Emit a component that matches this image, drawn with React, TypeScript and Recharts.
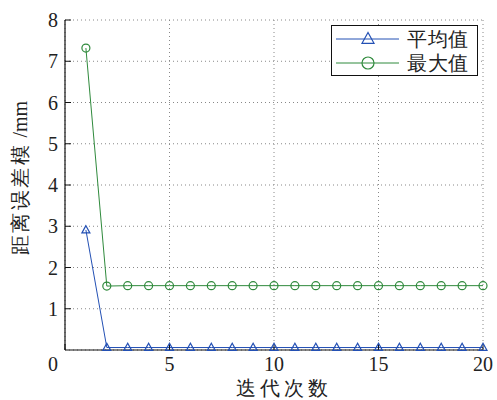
import React from 'react';
import { LineChart, Line, XAxis, YAxis, CartesianGrid, Legend } from 'recharts';

const iterations = [1, 2, 3, 4, 5, 6, 7, 8, 9, 10, 11, 12, 13, 14, 15, 16, 17, 18, 19, 20];
const meanValues = [2.91, 0.06, 0.06, 0.06, 0.06, 0.06, 0.06, 0.06, 0.06, 0.06, 0.06, 0.06, 0.06, 0.06, 0.06, 0.06, 0.06, 0.06, 0.06, 0.06];
const maxValues = [7.32, 1.55, 1.56, 1.56, 1.56, 1.56, 1.56, 1.56, 1.56, 1.56, 1.56, 1.56, 1.56, 1.56, 1.56, 1.56, 1.56, 1.56, 1.56, 1.56];
const xTicks = [0, 5, 10, 15, 20];
const yTicks = [1, 2, 3, 4, 5, 6, 7, 8];
const seriesNames = ['平均值', '最大值'];
const xLabel = '迭代次数';
const yLabelCn = '距离误差模';
const yLabelUnit = ' /mm';

const data = iterations.map((it, i) => ({ it, mean: meanValues[i], max: maxValues[i] }));

const BLUE = '#2350b4';
const GREEN = '#2f8a3c';
const FONT = 'Liberation Serif';

const Triangle = (props: any) => {
  const { cx, cy, size = 8, stroke } = props;
  if (cx == null || cy == null) return null;
  const h = size * 0.9;
  return (
    <polygon
      points={`${cx},${cy - h * 0.6} ${cx - size / 2},${cy + h * 0.4} ${cx + size / 2},${cy + h * 0.4}`}
      fill="none"
      stroke={stroke}
      strokeWidth={1.2}
    />
  );
};

const Circle = (props: any) => {
  const { cx, cy, r = 4, stroke } = props;
  if (cx == null || cy == null) return null;
  return <circle cx={cx} cy={cy} r={r} fill="none" stroke={stroke} strokeWidth={1.2} />;
};

const XTick = (props: any) => {
  const { x, y, payload } = props;
  const shift = payload.value === 0 ? -12 : 0;
  return (
    <text x={x + shift} y={y} dy="0.71em" textAnchor="middle" style={{ fontFamily: FONT }} fontSize={20} fill="#222">
      {payload.value}
    </text>
  );
};

const YTick = (props: any) => {
  const { x, y, payload } = props;
  return (
    <text x={x} y={y} dy="0.355em" textAnchor="end" style={{ fontFamily: FONT }} fontSize={20} fill="#222">
      {payload.value}
    </text>
  );
};

const LegendBox = () => {
  const rows = [
    { name: seriesNames[0], color: BLUE, kind: 'tri' },
    { name: seriesNames[1], color: GREEN, kind: 'circ' },
  ];
  return (
    <div
      style={{
        width: 147,
        height: 51,
        border: '1.5px solid #111',
        background: '#fff',
        boxSizing: 'border-box',
        position: 'relative',
      }}
    >
      <svg width={147} height={51} style={{ position: 'absolute', left: 0, top: 0 }}>
        {rows.map((r, i) => {
          const cy = 13 + i * 24;
          return (
            <g key={r.name}>
              <line x1={4} x2={67} y1={cy} y2={cy} stroke={r.color} strokeWidth={1} />
              {r.kind === 'tri' ? (
                <Triangle cx={36} cy={cy} size={12} stroke={r.color} />
              ) : (
                <Circle cx={36} cy={cy} r={6} stroke={r.color} />
              )}
              <text x={75} y={cy} dy="0.36em" style={{ fontFamily: FONT, letterSpacing: 0.5 }} fontSize={20} fill="#222">
                {r.name}
              </text>
            </g>
          );
        })}
      </svg>
    </div>
  );
};

export default function App() {
  return (
    <div style={{ position: 'absolute', left: 0, top: 0, width: 497, height: 400, background: '#fff' }}>
      <LineChart width={497} height={400} data={data} margin={{ top: 20, right: 14, left: 0, bottom: 0 }}>
        <CartesianGrid stroke="#888" strokeDasharray="1 3" strokeWidth={1} />
        <XAxis
          dataKey="it"
          type="number"
          domain={[0, 20]}
          ticks={xTicks}
          height={50}
          stroke="#111"
          axisLine={{ stroke: '#111', strokeWidth: 1.2 }}
          tickLine={{ stroke: '#111' }}
          tickSize={-6}
          tickMargin={13}
          tick={<XTick />}
          interval={0}
          label={{
            content: () => (
              <text
                x={284}
                y={388}
                dy="0.35em"
                textAnchor="middle"
                style={{ fontFamily: FONT, letterSpacing: 4 }}
                fontSize={20}
                fill="#222"
              >
                {xLabel}
              </text>
            ),
          }}
        />
        <YAxis
          type="number"
          domain={[0, 8]}
          ticks={yTicks}
          width={65}
          axisLine={{ stroke: '#111', strokeWidth: 1.2 }}
          tickLine={{ stroke: '#111' }}
          tickSize={-6}
          tickMargin={13}
          tick={<YTick />}
          interval={0}
          label={{
            content: () => (
              <text
                x={20}
                y={178}
                dy="0.35em"
                textAnchor="middle"
                style={{ fontFamily: FONT }}
                fontSize={20}
                fill="#222"
                transform="rotate(-90 20 178)"
              >
                <tspan style={{ letterSpacing: 2.5 }}>{yLabelCn}</tspan>
                <tspan>{yLabelUnit}</tspan>
              </text>
            ),
          }}
        />
        <Legend
          layout="vertical"
          verticalAlign="middle"
          align="center"
          wrapperStyle={{ position: 'absolute', left: 331, top: 25, width: 147, height: 51 }}
          content={() => <LegendBox />}
        />
        <Line
          dataKey="mean"
          name={seriesNames[0]}
          stroke={BLUE}
          strokeWidth={1}
          isAnimationActive={false}
          dot={<Triangle size={8} stroke={BLUE} />}
          activeDot={false}
        />
        <Line
          dataKey="max"
          name={seriesNames[1]}
          stroke={GREEN}
          strokeWidth={1}
          isAnimationActive={false}
          dot={<Circle r={4} stroke={GREEN} />}
          activeDot={false}
        />
      </LineChart>
    </div>
  );
}
